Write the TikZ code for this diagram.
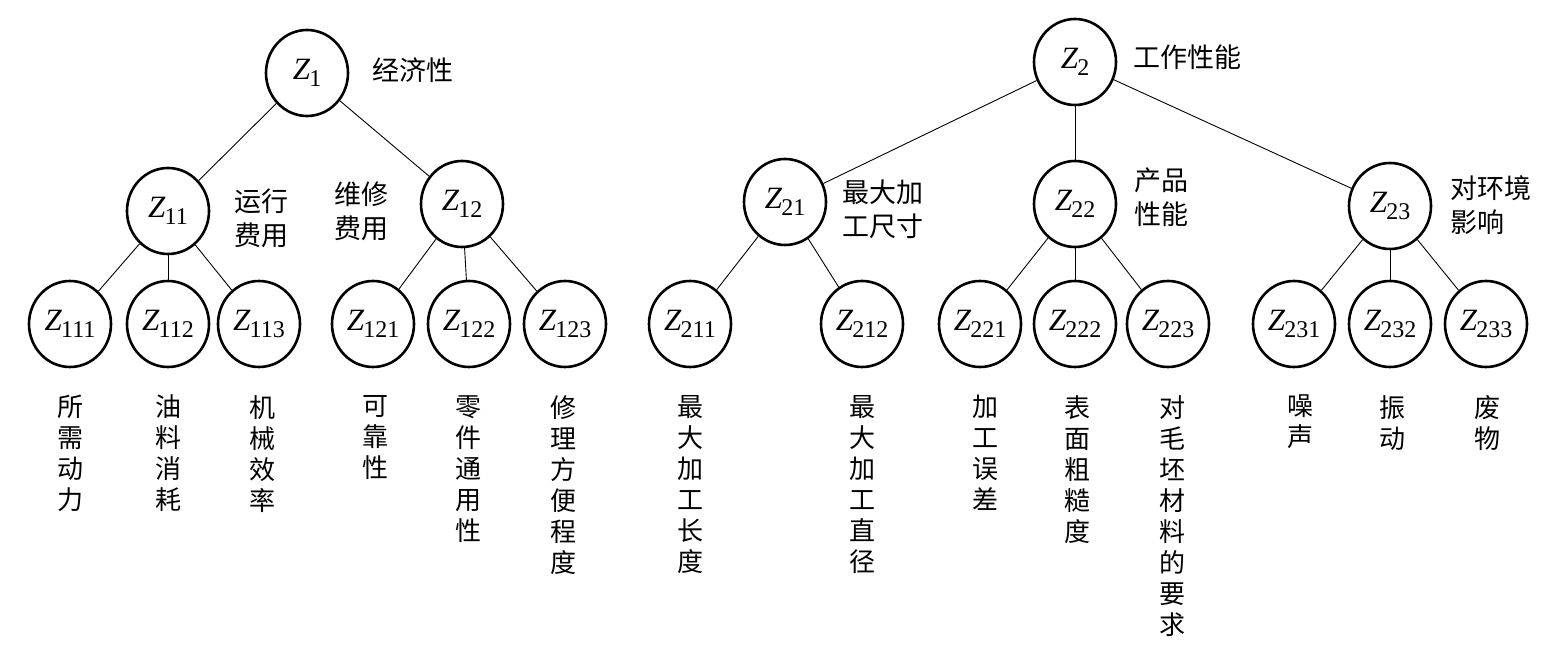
\documentclass[tikz,border=0pt]{standalone}
\usepackage{fontspec}
\setmainfont{Liberation Serif}
\newfontfamily\cjk{Noto Sans CJK SC}
\usetikzlibrary{shapes.geometric}
\newcommand\zlab[1]{\textit{Z}\kern-1pt\raisebox{-0.22em}{\fontsize{24}{24}\selectfont #1}}
\begin{document}
\begin{tikzpicture}[x=1pt,y=-1pt,
 zn/.style={ellipse, draw, line width=2.6pt, minimum width=82pt, minimum height=86pt, inner sep=0pt, font=\fontsize{31}{31}\selectfont},
 lk/.style={line width=0.9pt},
 lab/.style={font=\cjk\fontsize{27}{34}\selectfont, align=left, anchor=west, inner sep=0pt},
 vt/.style={font=\cjk\fontsize{26}{31}\selectfont, align=center, anchor=north, inner sep=0pt}]
\useasboundingbox (0,0) rectangle (1564,652);
% level 1
\node[zn] (z1) at (307,73) {\zlab{1}};
\node[zn] (z2) at (1075,62) {\zlab{2}};
% level 2
\node[zn] (z11) at (168,211) {\zlab{11}};
\node[zn] (z12) at (462,204) {\zlab{12}};
\node[zn] (z21) at (785,202) {\zlab{21}};
\node[zn] (z22) at (1075,204) {\zlab{22}};
\node[zn] (z23) at (1390,206) {\zlab{23}};
% leaves
\node[zn] (z111) at (70,324) {\zlab{111}};
\node[zn] (z112) at (168,324) {\zlab{112}};
\node[zn] (z113) at (259,324) {\zlab{113}};
\node[zn] (z121) at (373,324) {\zlab{121}};
\node[zn] (z122) at (469,324) {\zlab{122}};
\node[zn] (z123) at (565,324) {\zlab{123}};
\node[zn] (z211) at (690,324) {\zlab{211}};
\node[zn] (z212) at (862,324) {\zlab{212}};
\node[zn] (z221) at (980,324) {\zlab{221}};
\node[zn] (z222) at (1075,324) {\zlab{222}};
\node[zn] (z223) at (1168,324) {\zlab{223}};
\node[zn] (z231) at (1294,324) {\zlab{231}};
\node[zn] (z232) at (1390,324) {\zlab{232}};
\node[zn] (z233) at (1486,324) {\zlab{233}};
% connectors
\draw[lk] (z1) -- (z11);
\draw[lk] (z1) -- (z12);
\draw[lk] (z11) -- (z111);
\draw[lk] (z11) -- (z112);
\draw[lk] (z11) -- (z113);
\draw[lk] (z12) -- (z121);
\draw[lk] (z12) -- (z122);
\draw[lk] (z12) -- (z123);
\draw[lk] (z2) -- (z21);
\draw[lk] (z2) -- (z22);
\draw[lk] (z2) -- (z23);
\draw[lk] (z21) -- (z211);
\draw[lk] (z21) -- (z212);
\draw[lk] (z22) -- (z221);
\draw[lk] (z22) -- (z222);
\draw[lk] (z22) -- (z223);
\draw[lk] (z23) -- (z231);
\draw[lk] (z23) -- (z232);
\draw[lk] (z23) -- (z233);
% side labels
\node[lab] (l1) at (372,70) {经济性};
\node[lab] (l2) at (1133,57) {工作性能};
\node[lab] (l11) at (234,218) {运行\\费用};
\node[lab] (l12) at (334,211) {维修\\费用};
\node[lab] (l21) at (842,209) {最大加\\工尺寸};
\node[lab] (l22) at (1134,197) {产品\\性能};
\node[lab] (l23) at (1450,205) {对环境\\影响};
% vertical leaf labels
\node[vt] (t111) at (70,395) {所\\需\\动\\力};
\node[vt] (t112) at (168,395) {油\\料\\消\\耗};
\node[vt] (t113) at (262,395) {机\\械\\效\\率};
\node[vt] (t121) at (375,395) {可\\靠\\性};
\node[vt] (t122) at (468,395) {零\\件\\通\\用\\性};
\node[vt] (t123) at (563,395) {修\\理\\方\\便\\程\\度};
\node[vt] (t211) at (690,395) {最\\大\\加\\工\\长\\度};
\node[vt] (t212) at (862,395) {最\\大\\加\\工\\直\\径};
\node[vt] (t221) at (985,395) {加\\工\\误\\差};
\node[vt] (t222) at (1077,395) {表\\面\\粗\\糙\\度};
\node[vt] (t223) at (1172,395) {对\\毛\\坯\\材\\料\\的\\要\\求};
\node[vt] (t231) at (1300,395) {噪\\声};
\node[vt] (t232) at (1392,395) {振\\动};
\node[vt] (t233) at (1487,395) {废\\物};
\end{tikzpicture}
\end{document}
